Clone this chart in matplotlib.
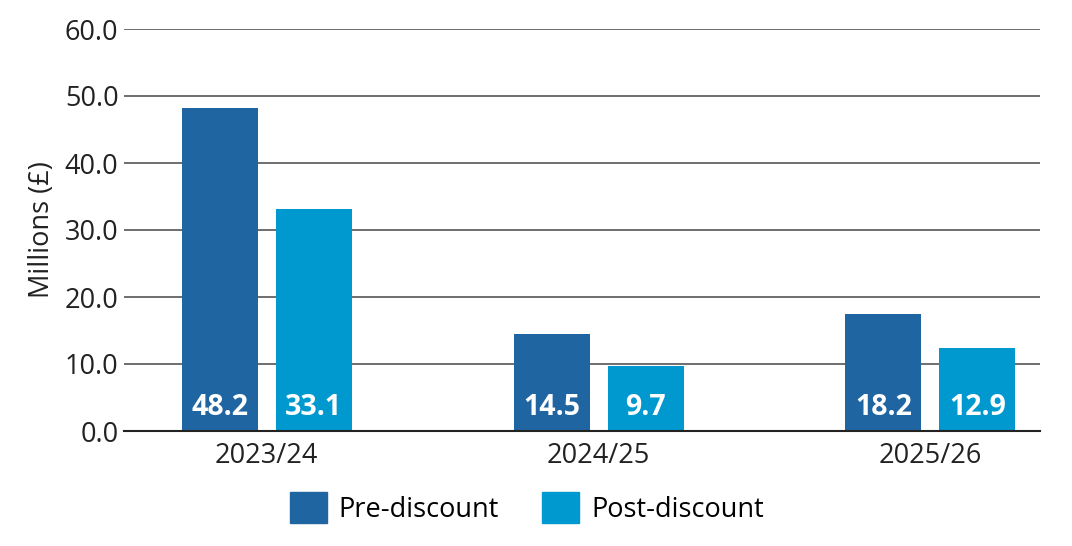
import numpy as np
import matplotlib.pyplot as plt
from matplotlib.patches import Patch

years = ['2023/24', '2024/25', '2025/26']
pre_heights = [48.2, 14.5, 17.5]
post_heights = [33.1, 9.7, 12.4]
pre_labels = ['48.2', '14.5', '18.2']
post_labels = ['33.1', '9.7', '12.9']
yticks = [0, 10, 20, 30, 40, 50, 60]

pre_color = '#1f65a2'
post_color = '#0099cf'

plt.rcParams['font.family'] = ['Open Sans', 'DejaVu Sans']

fig = plt.figure(figsize=(10.72, 5.46), dpi=100)
ax = fig.add_axes([124 / 1072, 1 - 431 / 546, (1040 - 124) / 1072, (431 - 29) / 546])

x = np.arange(len(years))
w = 0.229
off = 0.1416
b1 = ax.bar(x - off, pre_heights, w, color=pre_color, zorder=3)
b2 = ax.bar(x + off, post_heights, w, color=post_color, zorder=3)

for bars, labs in [(b1, pre_labels), (b2, post_labels)]:
    for b, lab in zip(bars, labs):
        ax.text(b.get_x() + b.get_width() / 2, 1.3, lab, ha='center', va='bottom',
                color='white', fontsize=20.5, fontweight='bold', zorder=4)

ax.set_xlim(-0.43, 2.33)
ax.set_ylim(0, 60)
ax.set_yticks(yticks)
ax.set_yticklabels([f'{v:.1f}' for v in yticks], fontsize=19.5, color='#222222')
ax.set_xticks(x)
ax.set_xticklabels(years, fontsize=19.5, color='#222222')
ax.tick_params(axis='both', length=0, pad=4)
ax.tick_params(axis='x', pad=8)
ax.yaxis.grid(True, color='#555555', linewidth=1.2, zorder=0)
for s in ['top', 'right', 'left']:
    ax.spines[s].set_visible(False)
ax.spines['bottom'].set_color('#222222')
ax.spines['bottom'].set_linewidth(1.5)
ax.spines['bottom'].set_zorder(5)
ax.set_ylabel('Millions (£)', fontsize=19.5, color='#222222', labelpad=6)

handles = [Patch(color=pre_color, label='Pre-discount'),
           Patch(color=post_color, label='Post-discount')]
fig.legend(handles=handles, loc='center', bbox_to_anchor=(527 / 1072, 1 - 508 / 546),
           ncol=2, frameon=False, fontsize=19.5, handlelength=1.35, handleheight=1.35,
           handletextpad=0.45, columnspacing=1.6)

fig.savefig('out.png', dpi=100)
